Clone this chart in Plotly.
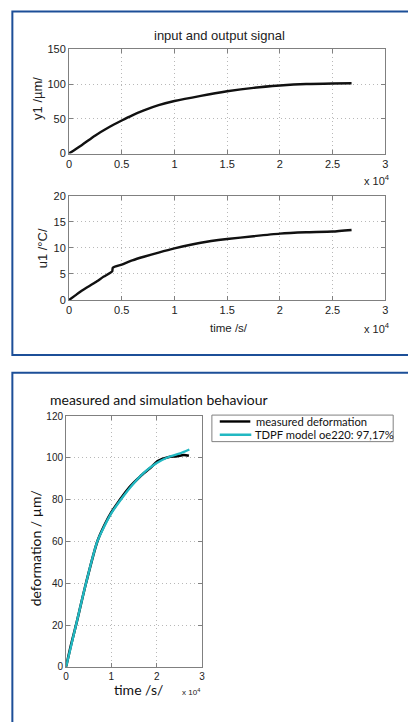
import plotly.graph_objects as go

W, H = 408, 722

# ---------------- data (time in seconds) ----------------
t_in = [0, 1200, 2500, 3700, 5000, 6000, 7100, 8500, 10000, 12500, 15000, 17500, 20000, 22500, 25000, 26800]
y1 = [0, 12, 26, 37, 47.5, 55, 62, 69.5, 75.5, 83, 89.5, 94.5, 97.8, 100, 100.8, 101]

t_u = [0, 600, 1200, 2500, 3300, 4100, 4150, 5000, 6000, 7100, 8500, 10000, 12500, 15000, 17500, 20000, 22500, 25000, 26800]
u1 = [0, 0.9, 1.8, 3.4, 4.5, 5.5, 6.2, 6.8, 7.6, 8.3, 9.1, 9.9, 11.0, 11.7, 12.25, 12.75, 13.0, 13.15, 13.45]

t_meas = [0, 1100, 2200, 4400, 6900, 8500, 10000, 11900, 14000, 16300, 18500, 20300, 22500, 24500, 26000, 27100]
meas = [0, 10.5, 20, 40, 60, 68, 74, 80, 86, 91, 95, 98.6, 100.3, 100.8, 101.4, 101]

t_model = [0, 2200, 4400, 6900, 8500, 10000, 11900, 15000, 17500, 20000, 22500, 25000, 27200]
model = [0, 20, 40, 60, 67.5, 73.5, 79.5, 88, 93.5, 97.5, 100.3, 102, 104]

x_ticks_top = [0, 5000, 10000, 15000, 20000, 25000, 30000]
x_ticklabels_top = ["0", "0.5", "1", "1.5", "2", "2.5", "3"]
x_ticks_bot = [0, 10000, 20000, 30000]
x_ticklabels_bot = ["0", "1", "2", "3"]

legend_names = ["measured deformation", "TDPF model oe220: 97,17%"]

# ---------------- helpers ----------------
def px(x):
    return x / W

def py(y):
    return 1 - y / H

FONT = "Liberation Sans"
FONT2 = "Lato"
FRAME = "#808080"
GRID = "#b8b8b8"
TXT = "#222222"
BLUE = "#1c4f98"
CYAN = "#22b8c2"

fig = go.Figure()

fig.add_trace(go.Scatter(x=t_in, y=y1, mode="lines",
                         line=dict(color="#111111", width=2.4, shape="spline", smoothing=0.8),
                         xaxis="x", yaxis="y", showlegend=False))
fig.add_trace(go.Scatter(x=t_u, y=u1, mode="lines",
                         line=dict(color="#111111", width=2.4, shape="spline", smoothing=0.5),
                         xaxis="x2", yaxis="y2", showlegend=False))
fig.add_trace(go.Scatter(x=t_meas, y=meas, mode="lines",
                         line=dict(color="#000000", width=2.6, shape="spline", smoothing=0.8),
                         xaxis="x3", yaxis="y3", name=legend_names[0], showlegend=False))
fig.add_trace(go.Scatter(x=t_model, y=model, mode="lines",
                         line=dict(color=CYAN, width=2.4, shape="spline", smoothing=0.8),
                         xaxis="x3", yaxis="y3", name=legend_names[1], showlegend=False))

common = dict(showline=True, mirror="ticks", linecolor=FRAME, linewidth=1,
              ticks="inside", ticklen=4, tickcolor=FRAME,
              showgrid=True, gridcolor=GRID, griddash="1px,3px", gridwidth=1,
              zeroline=False, tickfont=dict(family=FONT, size=11, color=TXT))

fig.update_layout(
    width=W, height=H,
    margin=dict(l=0, r=0, t=0, b=0),
    paper_bgcolor="white", plot_bgcolor="white",
    font=dict(family=FONT, color=TXT),
    xaxis=dict(domain=[px(67), px(388)], range=[0, 30000], tickvals=x_ticks_top,
               ticktext=x_ticklabels_top, anchor="y", **common),
    yaxis=dict(domain=[py(150), py(44)], range=[0, 150], tickvals=[0, 50, 100, 150],
               anchor="x", **common),
    xaxis2=dict(domain=[px(67), px(388)], range=[0, 30000], tickvals=x_ticks_top,
                ticktext=x_ticklabels_top, anchor="y2", **common),
    yaxis2=dict(domain=[py(299), py(193)], range=[0, 20], tickvals=[0, 5, 10, 15, 20],
                anchor="x2", **common),
    xaxis3=dict(domain=[px(64), px(202)], range=[0, 30000], tickvals=x_ticks_bot,
                ticktext=x_ticklabels_bot, anchor="y3",
                **{**common, "tickfont": dict(family=FONT, size=10, color=TXT)}),
    yaxis3=dict(domain=[py(672), py(417)], range=[0, 120], tickvals=[0, 20, 40, 60, 80, 100, 120],
                anchor="x3",
                **{**common, "tickfont": dict(family=FONT, size=10, color=TXT)}),
)

shapes = [
    # panel borders
    dict(type="rect", xref="paper", yref="paper", x0=px(9.5), x1=px(420), y0=py(355), y1=py(5.5),
         line=dict(color=BLUE, width=2), layer="below"),
    dict(type="rect", xref="paper", yref="paper", x0=px(9.5), x1=px(420), y0=py(740), y1=py(373),
         line=dict(color=BLUE, width=2), layer="below"),
    # legend box and samples
    dict(type="rect", xref="paper", yref="paper", x0=px(212), x1=px(396), y0=py(443), y1=py(416),
         line=dict(color=FRAME, width=1), fillcolor="white"),
    dict(type="line", xref="paper", yref="paper", x0=px(220), x1=px(251), y0=py(422.5), y1=py(422.5),
         line=dict(color="#000000", width=2.4)),
    dict(type="line", xref="paper", yref="paper", x0=px(220), x1=px(252), y0=py(436), y1=py(436),
         line=dict(color=CYAN, width=2.4)),
]

def ann(text, x, y, size, family=FONT, angle=0, xanchor="center", color=TXT):
    return dict(text=text, x=px(x), y=py(y), xref="paper", yref="paper", showarrow=False,
                xanchor=xanchor, yanchor="middle", textangle=angle, borderpad=0,
                font=dict(family=family, size=size, color=color))

annotations = [
    ann("input and output signal", 219.5, 30, 13),
    ann("y1 /µm/", 35, 94, 13, angle=-90),
    ann("x 10<sup>4</sup>", 380, 177, 11),
    ann("u1 /°C/", 40, 246, 13, angle=-90),
    ann("time /s/", 229, 327, 11.5),
    ann("x 10<sup>4</sup>", 380, 327, 11),
    ann("measured and simulation behaviour", 47, 400, 14, family=FONT2, xanchor="left", color="#111111"),
    ann("deformation / µm/", 33, 552, 14, family=FONT2, angle=-90, color="#111111"),
    ann("time /s/", 138, 695, 14, family=FONT2, color="#111111"),
    ann("x 10<sup>4</sup>", 191, 698, 8),
    ann(legend_names[0], 256, 422.5, 11.2, family=FONT2, xanchor="left", color="#111111"),
    ann(legend_names[1], 255, 436, 11.2, family=FONT2, xanchor="left", color="#111111"),
]

fig.update_layout(shapes=shapes, annotations=annotations)

fig.write_html("out.html")
